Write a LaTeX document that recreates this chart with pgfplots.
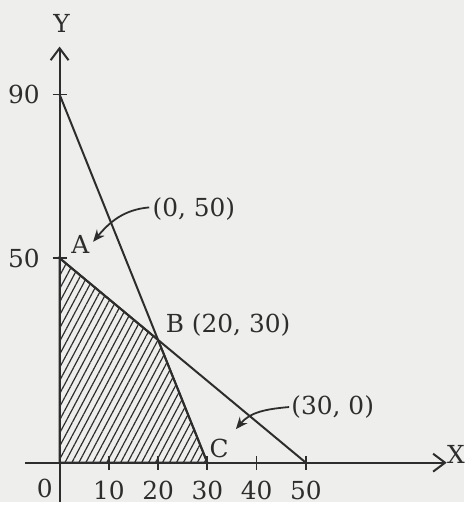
\documentclass[border=0pt]{standalone}
\usepackage{fontspec}
\setmainfont{DejaVu Serif}
\usepackage{pgfplots}
\pgfplotsset{compat=1.18}
\usetikzlibrary{arrows.meta,patterns.meta}
\definecolor{paper}{RGB}{238,238,236}
\definecolor{ink}{RGB}{45,45,45}

\begin{document}
\begin{tikzpicture}[font=\fontsize{12.5}{15}\selectfont]
\begin{axis}[
  x=2.48pt,y=2.06pt,
  axis lines=middle,
  axis on top,
  clip=false,
  xmin=-7,xmax=78.6,
  ymin=-9.7,ymax=101.7,
  axis line style={ink,line width=1pt,-{Straight Barb[length=6pt,width=9pt,line width=1pt]}},
  xtick={10,20,30,40,50},
  ytick={50,90},
  tick align=center,
  major tick length=7pt,
  tick style={ink,line width=0.9pt},
  /pgf/number format/assume math mode=true,
  xticklabel style={text=ink,yshift=-2pt},
  yticklabel style={text=ink,xshift=-3pt},
  every tick label/.append style={font=\fontsize{12.5}{15}\selectfont},
]
% background of the page, also sets the picture size
\fill[paper] (axis cs:-12.1,-9.7) rectangle (axis cs:82.1,113.1);

% feasible region
\addplot[draw=ink,line width=1pt,
  pattern={Lines[angle=62,distance=3.1pt,line width=0.6pt]},pattern color=ink]
  coordinates {(0,0) (0,50) (20,30) (30,0)} -- cycle;

% constraint lines
\addplot[ink,line width=1pt] coordinates {(0,90) (30,0)};
\addplot[ink,line width=1pt] coordinates {(0,50) (50,0)};

% labels
\node[text=ink] at (axis cs:80.5,1.9) {X};
\node[text=ink] at (axis cs:0.4,107.3) {Y};
\node[text=ink] at (axis cs:-3,-6.3) {0};
\node[text=ink] at (axis cs:4.2,53.4) {A};
\node[text=ink,anchor=west,inner sep=0pt] at (axis cs:21.5,33.7) {B (20, 30)};
\node[text=ink] at (axis cs:32.4,3.4) {C};
\node[text=ink,anchor=west,inner sep=0pt] at (axis cs:18.8,61.9) {(0, 50)};
\node[text=ink,anchor=west,inner sep=0pt] at (axis cs:47.0,13.6) {(30, 0)};

% pointer arrows
\draw[ink,line width=0.9pt,-{Stealth[length=6pt,width=5pt]}]
  (axis cs:18.2,62.4) to[out=185,in=50] (axis cs:6.8,54.0);
\draw[ink,line width=0.9pt,-{Stealth[length=6pt,width=5pt]}]
  (axis cs:46.6,13.6) to[out=185,in=50] (axis cs:35.8,8.2);
\end{axis}
\end{tikzpicture}
\end{document}
